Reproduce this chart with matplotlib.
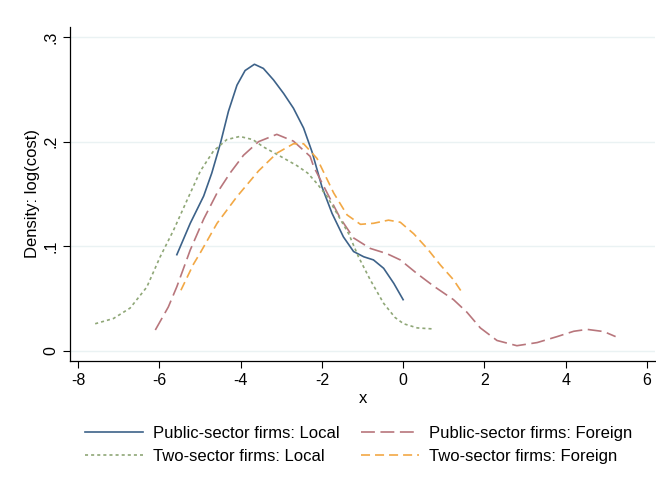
import matplotlib
matplotlib.use("Agg")
import matplotlib.pyplot as plt

plt.rcParams['font.family'] = ['Liberation Sans', 'DejaVu Sans']
plt.rcParams['lines.scale_dashes'] = False
plt.rcParams['axes.unicode_minus'] = False

# kernel density curves
pub_local_x = [-5.57, -5.24, -4.91, -4.71, -4.50, -4.30, -4.09, -3.89, -3.66, -3.44, -3.19, -2.94,
               -2.70, -2.45, -2.24, -2.0, -1.75, -1.47, -1.22, -0.97, -0.73, -0.48, -0.23, 0.0]
pub_local_y = [0.092, 0.122, 0.148, 0.170, 0.198, 0.229, 0.254, 0.268, 0.274, 0.270, 0.259, 0.246,
               0.232, 0.213, 0.190, 0.157, 0.1315, 0.109, 0.095, 0.090, 0.087, 0.079, 0.0646, 0.049]

pub_foreign_x = [-6.10, -5.78, -5.57, -5.24, -4.91, -4.58, -4.26, -3.93, -3.56, -3.11, -2.70, -2.29,
                 -2.20, -1.87, -1.55, -1.22, -0.81, -0.40, -0.07, 0.34, 0.75, 1.24, 1.57, 1.90,
                 2.31, 2.80, 3.30, 3.79, 4.20, 4.53, 4.94, 5.23]
pub_foreign_y = [0.020, 0.042, 0.0614, 0.0965, 0.126, 0.151, 0.170, 0.187, 0.200, 0.207, 0.2005, 0.186,
                 0.176, 0.151, 0.127, 0.108, 0.098, 0.093, 0.087, 0.074, 0.062, 0.049, 0.037, 0.022,
                 0.010, 0.005, 0.008, 0.0137, 0.0188, 0.0206, 0.0185, 0.0137]

two_local_x = [-7.58, -7.13, -6.72, -6.31, -5.98, -5.65, -5.32, -4.99, -4.67, -4.34, -4.02, -3.70,
               -3.44, -3.02, -2.61, -2.35, -2.12, -1.87, -1.63, -1.34, -1.10, -0.81, -0.48, -0.2,
               0.01, 0.35, 0.75]
two_local_y = [0.026, 0.031, 0.041, 0.061, 0.090, 0.1155, 0.144, 0.172, 0.191, 0.202, 0.205, 0.202,
               0.195, 0.186, 0.177, 0.170, 0.160, 0.1475, 0.1315, 0.112, 0.090, 0.068, 0.0455, 0.032,
               0.026, 0.022, 0.021]

two_foreign_x = [-5.47, -5.16, -4.99, -4.58, -4.09, -3.56, -3.11, -2.70, -2.45, -2.12, -1.71, -1.38,
                 -1.05, -0.73, -0.36, -0.07, 0.26, 0.59, 0.92, 1.24, 1.43]
two_foreign_y = [0.058, 0.083, 0.094, 0.122, 0.1475, 0.172, 0.189, 0.198, 0.198, 0.184, 0.151, 0.130,
                 0.121, 0.122, 0.125, 0.123, 0.112, 0.098, 0.082, 0.068, 0.057]

xticks = [-8, -6, -4, -2, 0, 2, 4, 6]
yticks = [0, 0.1, 0.2, 0.3]
ytick_labels = ['0', '.1', '.2', '.3']

fig = plt.figure(figsize=(6.56, 4.91), dpi=100)
ax = fig.add_axes([0.1067, 0.2648, 0.8918, 0.6802])

lw = 1.2
l1, = ax.plot(pub_local_x, pub_local_y, color='#3d6289', lw=lw, label='Public-sector firms: Local')
l2, = ax.plot(pub_foreign_x, pub_foreign_y, color='#b8767c', lw=lw, dashes=(10, 4),
              label='Public-sector firms: Foreign')
l3, = ax.plot(two_local_x, two_local_y, color='#8fa777', lw=lw, dashes=(2.2, 2.2),
              label='Two-sector firms: Local')
l4, = ax.plot(two_foreign_x, two_foreign_y, color='#f2a845', lw=lw, dashes=(6.5, 3.6),
              label='Two-sector firms: Foreign')

ax.set_xlim(-8.2, 6.2)
ax.set_ylim(-0.0096, 0.3096)
ax.set_xticks(xticks)
ax.set_yticks(yticks)
ax.set_yticklabels(ytick_labels, rotation=90, va='center')
ax.tick_params(labelsize=11.5, length=5, width=0.8, colors='black')
ax.grid(True, axis='y', color='#eaf2f3', linewidth=1.0)
ax.set_axisbelow(True)
for s in ['top', 'right']:
    ax.spines[s].set_visible(False)
ax.spines['left'].set_linewidth(0.9)
ax.spines['bottom'].set_linewidth(0.9)

ax.set_xlabel('x', fontsize=12, labelpad=2)
ax.set_ylabel('Density: log(cost)', fontsize=12, labelpad=2)

# legend is filled column by column, so order handles to get rows like the reference
fig.legend(handles=[l1, l3, l2, l4], ncol=2, loc='center', bbox_to_anchor=(0.547, 0.094),
           frameon=False, fontsize=12, handlelength=3.5, handletextpad=0.6,
           columnspacing=1.26, labelspacing=0.5)

fig.savefig('out.png', dpi=100)
